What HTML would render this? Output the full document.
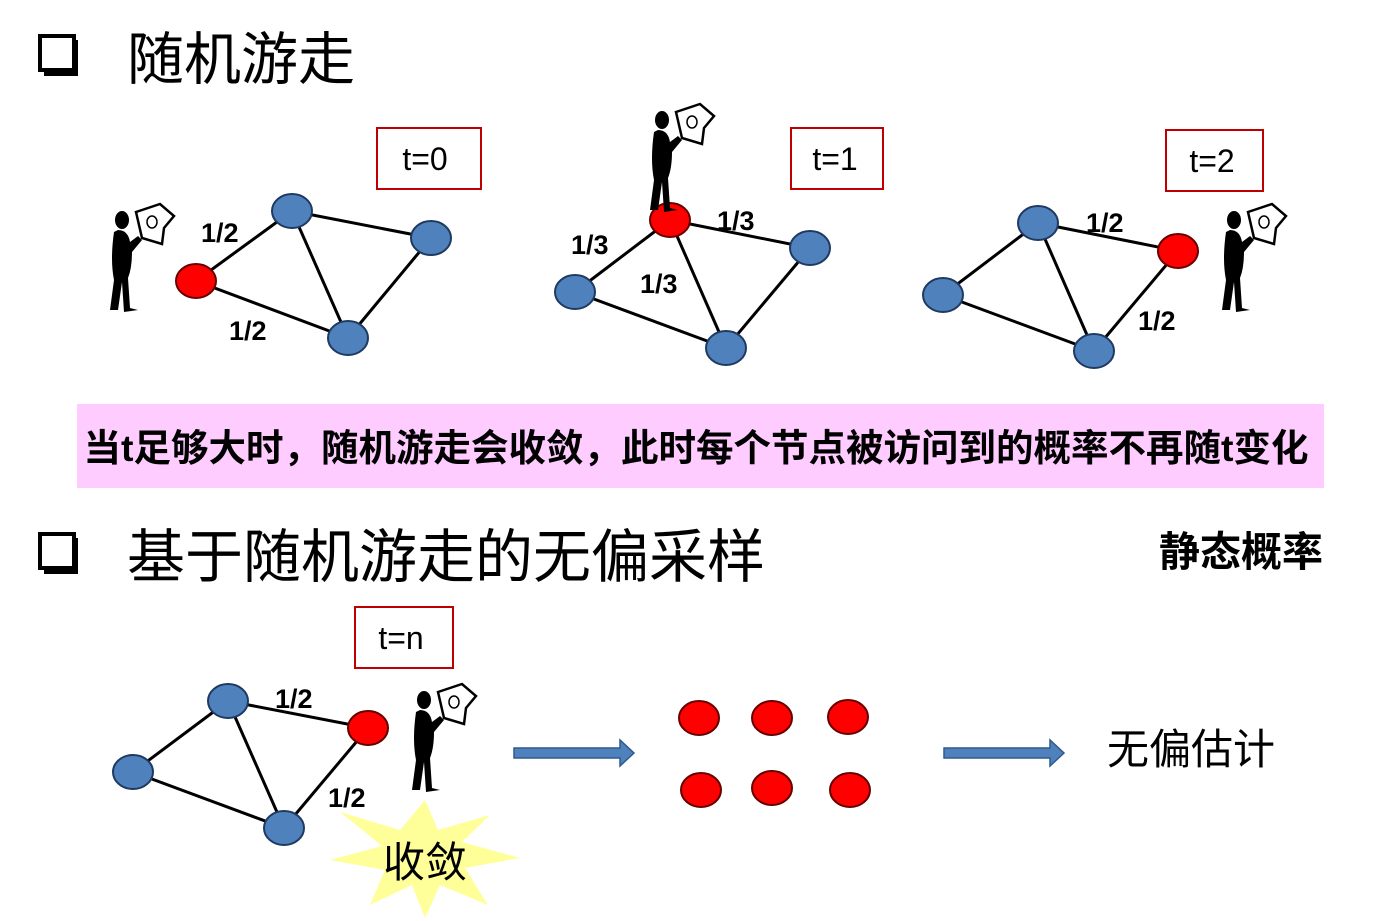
<!DOCTYPE html>
<html><head><meta charset="utf-8"><style>
body{margin:0;background:#fff;}
svg{display:block;}
text{font-family:"Liberation Sans","Noto Sans CJK SC",sans-serif;}
</style></head><body>
<svg width="1400" height="921" viewBox="0 0 1400 921" xmlns="http://www.w3.org/2000/svg">
<defs>
<g id="man">
<ellipse cx="-28" cy="-40" rx="7" ry="9" fill="#000"/>
<path d="M-32-30 Q-22-30-20-18 L-12-24 L-8-20 L-18-8 Q-18 8-22 18 L-20 48 L-12 50 L-26 52 L-28 22 L-32 50 L-40 50 L-36 20 Q-40 0-36-28Z" fill="#000"/>
<path d="M-14-48 L10-56 L24-44 L14-32 L12-16 L-8-22 Z" fill="#fff" stroke="#000" stroke-width="2.5"/>
<ellipse cx="2" cy="-38" rx="5" ry="6" fill="none" stroke="#000" stroke-width="1.5"/>
</g>
<g id="box"><rect x="0" y="0" width="34" height="34" fill="#fff" stroke="#000" stroke-width="4"/><path d="M36 4 V38 H4" fill="none" stroke="#000" stroke-width="4"/></g>
</defs>

<use href="#box" x="40" y="36"/>
<text x="127" y="79" font-size="57">随机游走</text>
<use href="#box" x="40" y="534"/>
<text x="127" y="577" font-size="58">基于随机游走的无偏采样</text>

<g fill="none" stroke="#c00000" stroke-width="2">
<rect x="377" y="128" width="104" height="61"/>
<rect x="791" y="128" width="92" height="61"/>
<rect x="1166" y="130" width="97" height="61"/>
<rect x="355" y="607" width="98" height="61"/>
</g>
<g font-size="32" text-anchor="middle">
<text x="425" y="170">t=0</text>
<text x="835" y="170">t=1</text>
<text x="1212" y="172">t=2</text>
<text x="401" y="649">t=n</text>
</g>

<g stroke="#000" stroke-width="3">
<line x1="196" y1="281" x2="292" y2="211"/><line x1="196" y1="281" x2="348" y2="338"/>
<line x1="292" y1="211" x2="431" y2="238"/><line x1="292" y1="211" x2="348" y2="338"/><line x1="431" y1="238" x2="348" y2="338"/>
<line x1="670" y1="220" x2="575" y2="292"/><line x1="670" y1="220" x2="810" y2="248"/><line x1="670" y1="220" x2="726" y2="348"/>
<line x1="575" y1="292" x2="726" y2="348"/><line x1="810" y1="248" x2="726" y2="348"/>
<line x1="943" y1="295" x2="1038" y2="223"/><line x1="943" y1="295" x2="1094" y2="351"/><line x1="1038" y1="223" x2="1178" y2="251"/>
<line x1="1038" y1="223" x2="1094" y2="351"/><line x1="1178" y1="251" x2="1094" y2="351"/>
<line x1="133" y1="772" x2="228" y2="701"/><line x1="133" y1="772" x2="284" y2="828"/><line x1="228" y1="701" x2="368" y2="728"/>
<line x1="228" y1="701" x2="284" y2="828"/><line x1="368" y1="728" x2="284" y2="828"/>
</g>
<g stroke="#1f3a60" stroke-width="2" fill="#4f81bd">
<ellipse cx="292" cy="211" rx="20" ry="17"/><ellipse cx="431" cy="238" rx="20" ry="17"/><ellipse cx="348" cy="338" rx="20" ry="17"/>
<ellipse cx="575" cy="292" rx="20" ry="17"/><ellipse cx="810" cy="248" rx="20" ry="17"/><ellipse cx="726" cy="348" rx="20" ry="17"/>
<ellipse cx="943" cy="295" rx="20" ry="17"/><ellipse cx="1038" cy="223" rx="20" ry="17"/><ellipse cx="1094" cy="351" rx="20" ry="17"/>
<ellipse cx="133" cy="772" rx="20" ry="17"/><ellipse cx="228" cy="701" rx="20" ry="17"/><ellipse cx="284" cy="828" rx="20" ry="17"/>
</g>
<g stroke="#600" stroke-width="2" fill="#ff0000">
<ellipse cx="196" cy="281" rx="20" ry="17"/><ellipse cx="670" cy="220" rx="20" ry="17"/><ellipse cx="1178" cy="251" rx="20" ry="17"/><ellipse cx="368" cy="728" rx="20" ry="17"/>
<ellipse cx="699" cy="718" rx="20" ry="17"/><ellipse cx="772" cy="718" rx="20" ry="17"/><ellipse cx="848" cy="717" rx="20" ry="17"/>
<ellipse cx="701" cy="790" rx="20" ry="17"/><ellipse cx="772" cy="788" rx="20" ry="17"/><ellipse cx="850" cy="790" rx="20" ry="17"/>
</g>

<g font-size="27" font-weight="bold">
<text x="201" y="242">1/2</text><text x="229" y="340">1/2</text>
<text x="571" y="254">1/3</text><text x="717" y="230">1/3</text><text x="640" y="293">1/3</text>
<text x="1086" y="232">1/2</text><text x="1138" y="330">1/2</text>
<text x="275" y="708">1/2</text><text x="328" y="807">1/2</text>
</g>

<use href="#man" x="150" y="260"/>
<use href="#man" x="690" y="160"/>
<use href="#man" x="1262" y="260"/>
<use href="#man" x="452" y="740"/>

<rect x="77" y="404" width="1247" height="84" fill="#ffccff"/>
<text x="696" y="461" font-size="37.5" font-weight="bold" text-anchor="middle">当t足够大时，随机游走会收敛，此时每个节点被访问到的概率不再随t变化</text>
<text x="1241" y="566" font-size="41" font-weight="bold" text-anchor="middle">静态概率</text>

<g fill="#4f81bd" stroke="#2e5a8c" stroke-width="1.5">
<path d="M514 748 H620 V740 L634 753 L620 766 V758 H514Z"/>
<path d="M944 748 H1050 V740 L1064 753 L1050 766 V758 H944Z"/>
</g>
<text x="1107" y="764" font-size="42">无偏估计</text>

<polygon points="425,800 438,830 490,815 462,842 520,858 465,868 488,905 440,885 425,918 412,885 370,905 385,870 330,860 382,846 340,812 400,830" fill="#ffff99"/>
<text x="425" y="877" font-size="42" text-anchor="middle">收敛</text>
</svg>
</body></html>
